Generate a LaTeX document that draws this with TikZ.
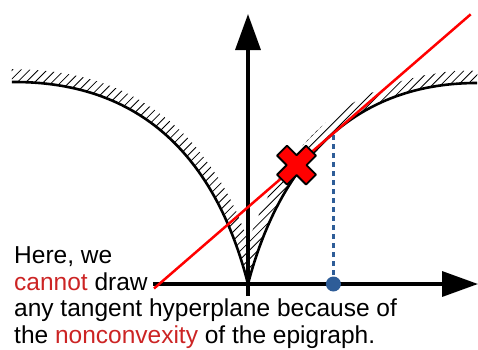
\documentclass[tikz,border=0pt]{standalone}
\usepackage{fontspec}
\setmainfont{Liberation Sans}
\usepackage{tikz}
\usetikzlibrary{calc,arrows.meta}
\definecolor{dotblue}{RGB}{46,93,152}
\definecolor{txtred}{RGB}{204,36,36}

\begin{document}
\begin{tikzpicture}[x=1pt, y=1pt, line join=round,
	declare function={bez(\s,\p,\q,\r)=3*(1-\s)^2*\s*\p+3*(1-\s)*\s^2*\q+\s^3*\r;},
	axis/.style={line width=3.5pt, -{Triangle[length=36pt,width=25pt]}},
	graph/.style={line width=2.6pt},
	hatch/.style={line width=0.8pt},
	cross/.style={fill=red, draw=black, line width=1.8pt},
	txt/.style={anchor=base west, inner sep=0pt, font=\fontsize{24.5}{26.7}\selectfont}]
	
	\useasboundingbox (-248,-65) rectangle (230,284);
	
	%====================
	% 1) 基本点：尖点与两支端点
	%====================
	\coordinate (O)    at (0,0);
	\coordinate (Lend) at (-236,202);
	\coordinate (Rend) at (229,201);
	
	%====================
	% 2) 上境图的阴影带（沿曲线的窄带）
	%====================
	\def\band{13} % 阴影带宽度
	\begin{scope}
		\clip (Lend) .. controls (-100,203) and (-30,118) .. (O)
		      .. controls (30,115) and (100,201) .. (Rend)
		      -- (232,300) -- (-240,300) -- cycle;
		\clip foreach \tp in {0,0.02,...,1.001} {
			({bez(\tp,-30,-100,-236)},{bez(\tp,118,203,202)}) circle (\band)
			({bez(\tp,30,100,229)},{bez(\tp,115,201,201)}) circle (\band)};
		\foreach \i in {-56,...,30}
			\draw[hatch] ({\i*8.7},-20) -- ++(330,330);
	\end{scope}
	
	% 函数图像
	\draw[graph] (Lend) .. controls (-100,203) and (-30,118) .. (O)
	             .. controls (30,115) and (100,201) .. (Rend);
	
	%====================
	% 3) 坐标轴
	%====================
	\coordinate (Xs) at (-95,0);
	\coordinate (Xe) at (230,0);
	\coordinate (Ys) at (0,-12);
	\coordinate (Ye) at (0,270);
	\draw[axis] (Xs) -- (Xe);
	\draw[axis] (Ys) -- (Ye);
	
	%====================
	% 4) 切点与竖直虚线
	%====================
	\path (O) .. controls (30,115) and (100,201) .. (Rend) coordinate[pos=0.535] (T);
	\coordinate (Tx) at (T |- O);
	\draw[dotblue, line width=2.5pt, dash pattern=on 5pt off 4pt] (Tx) -- (T);
	\fill[dotblue] (Tx) circle (7.5);
	
	%====================
	% 5) 红色切线与叉号
	%====================
	\coordinate (L1) at (-94,-4.5);
	\coordinate (L2) at (222.7,269.7);
	\draw[red, line width=2.5pt] (L1) -- (L2);
	
	\coordinate (X) at ($(L1)!0.45!(L2)$);
	\begin{scope}[shift={(X)}, rotate=45]
		\draw[cross] (7,20.5) -- (7,7) -- (20.5,7) -- (20.5,-7) -- (7,-7) -- (7,-20.5)
		  -- (-7,-20.5) -- (-7,-7) -- (-20.5,-7) -- (-20.5,7) -- (-7,7) -- (-7,20.5) -- cycle;
	\end{scope}
	
	%====================
	% 6) 文字说明
	%====================
	\node[txt] (line1) at (-234,20.7)  {Here, we};
	\node[txt] (line2) at (-234,-6)    {\textcolor{txtred}{cannot} draw};
	\node[txt] (line3) at (-234,-32.7) {any tangent hyperplane because of};
	\node[txt] (line4) at (-234,-59.3) {the \textcolor{txtred}{nonconvexity} of the epigraph.};
	
\end{tikzpicture}
\end{document}
